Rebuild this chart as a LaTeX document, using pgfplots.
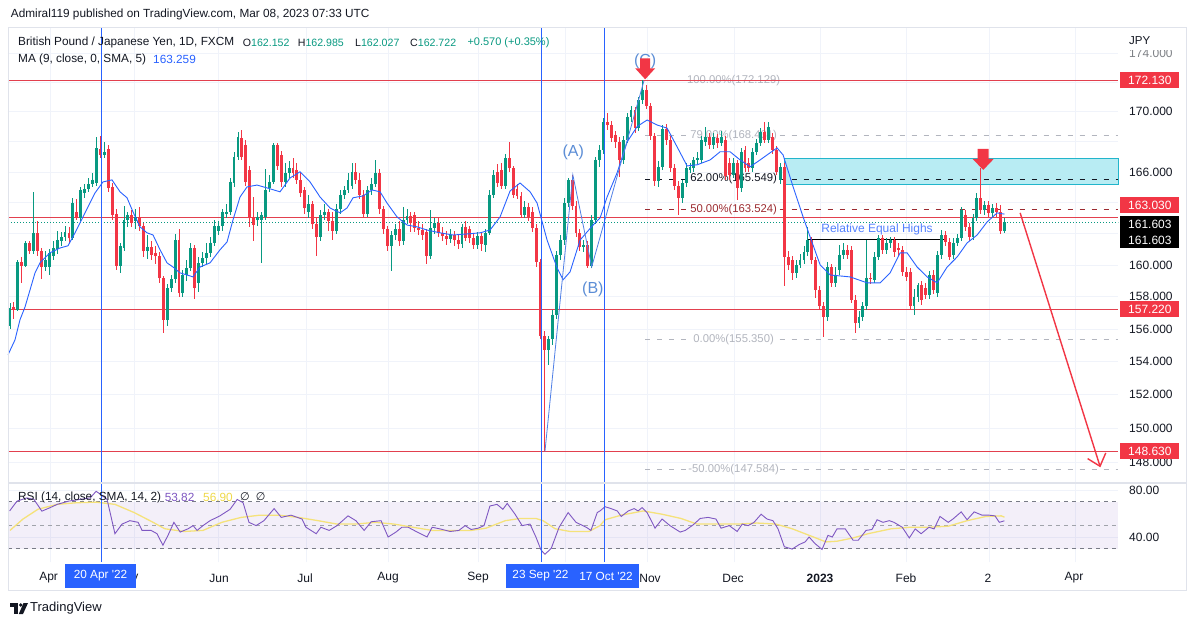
\documentclass[border=0pt]{standalone}
\usepackage{pgfplots}
\pgfplotsset{compat=1.18}
\usepackage{pgfplotstable}
\usepackage{fontspec}
\setmainfont{Liberation Sans}
\newfontfamily\dejavu{DejaVu Sans}
\usetikzlibrary{arrows.meta}
\definecolor{up}{HTML}{089981}
\definecolor{dn}{HTML}{F23645}
\definecolor{maC}{HTML}{2962FF}
\definecolor{rsiC}{HTML}{7E57C2}
\definecolor{smaC}{HTML}{F5E27A}
\definecolor{smaT}{HTML}{EFD94A}
\definecolor{gridC}{HTML}{F0F3FA}
\definecolor{frameC}{HTML}{E0E3EB}
\definecolor{txt}{HTML}{131722}
\definecolor{fibG}{HTML}{B2B5BE}
\definecolor{fibR}{HTML}{9C2B31}
\definecolor{boxF}{HTML}{B8ECF3}
\definecolor{boxB}{HTML}{22B5CB}
\definecolor{abc}{HTML}{5B8DD6}
\definecolor{hl}{HTML}{E2404E}
\definecolor{dashG}{HTML}{787B86}
\definecolor{zz}{HTML}{4F7FE6}
\newcommand\fs[1]{\fontsize{#1}{#1}\selectfont}
\newcommand\plabel[2]{\node[anchor=west, txt, font=\fs{12}, inner sep=0pt] at (axis cs:284.7,#1) {#2};}
\newcommand\rbadge[2]{\node[anchor=west, fill=dn, text=white, font=\fs{12}, inner sep=0pt, minimum width=59pt, minimum height=16pt] at (axis cs:282.44,#1) {#2};}
\newcommand\hgrid[1]{\draw[gridC, line width=0.8pt] (axis cs:-0.51,#1) -- (axis cs:281.9,#1);}
\newcommand\vgrid[3]{\draw[gridC, line width=0.8pt] (axis cs:#1,#2) -- (axis cs:#1,#3);}

\pgfplotstableread{
i o h l c
0 156.20 157.60 156.00 157.30
1 157.35 157.70 156.60 157.20
2 157.20 160.33 157.10 160.20
3 160.20 160.50 158.90 159.95
4 159.95 161.50 159.85 161.40
5 161.40 161.55 160.70 160.90
6 160.90 164.70 160.70 162.05
7 162.05 162.78 160.60 160.90
8 160.90 161.10 159.10 159.90
9 159.90 160.90 159.60 160.33
10 159.85 161.00 159.40 160.78
11 160.55 161.50 160.30 161.08
12 161.00 162.20 160.70 161.60
13 161.50 162.10 161.20 161.80
14 161.80 162.50 161.50 162.10
15 162.05 162.40 161.40 161.70
16 161.70 164.30 161.60 163.99
17 163.40 164.20 162.90 163.00
18 163.00 165.00 162.80 164.83
19 164.60 165.20 164.30 164.90
20 164.90 165.60 164.70 165.20
21 165.20 165.90 165.00 165.50
22 165.26 168.34 165.10 167.57
23 167.50 168.40 166.90 167.12
24 167.10 168.00 166.90 167.30
25 167.50 167.80 164.70 164.94
26 165.00 165.30 162.90 163.21
27 163.30 163.60 159.70 159.95
28 159.95 161.40 159.50 161.20
29 161.10 163.80 160.90 162.90
30 162.90 163.40 162.40 163.20
31 163.20 163.50 162.40 162.67
32 162.80 163.60 162.30 163.10
33 163.10 163.70 162.20 162.46
34 162.46 162.70 160.50 160.86
35 160.86 161.90 160.40 161.17
36 161.17 161.50 160.30 160.65
37 160.75 161.20 160.10 160.55
38 160.55 160.80 158.90 159.17
39 159.17 159.30 155.76 156.57
40 156.57 158.80 156.20 158.55
41 158.55 159.40 158.30 159.10
42 159.10 162.00 158.90 161.60
43 161.60 162.30 158.00 158.24
44 158.24 159.70 158.00 159.38
45 159.38 160.30 159.00 159.80
46 159.80 161.40 159.60 161.07
47 161.07 161.30 157.90 158.55
48 158.90 160.50 158.30 160.12
49 160.12 160.80 159.90 160.44
50 160.44 161.40 160.10 160.76
51 160.76 161.80 160.50 161.43
52 161.43 162.90 161.20 162.46
53 162.20 162.80 161.90 162.50
54 162.46 163.60 162.20 163.36
55 163.30 163.90 163.00 163.40
56 163.40 165.60 163.20 165.37
57 165.26 167.30 165.00 167.00
58 167.00 168.67 166.80 168.34
59 168.23 168.78 166.80 167.00
60 167.79 168.10 165.10 165.37
61 166.14 166.40 162.40 163.00
62 163.10 164.40 161.50 162.56
63 162.89 163.40 162.50 163.10
64 162.89 163.40 160.12 163.21
65 163.10 166.20 162.90 164.83
66 164.94 165.81 164.70 165.37
67 165.37 167.90 165.20 167.79
68 167.79 167.90 166.10 166.36
69 167.12 167.40 165.00 165.37
70 165.37 166.57 165.00 165.92
71 165.92 166.70 165.60 166.25
72 166.25 166.90 165.60 165.92
73 166.14 166.60 165.20 165.48
74 165.50 166.00 164.40 164.60
75 164.83 165.00 163.30 163.64
76 163.40 164.50 163.00 163.90
77 163.90 164.10 162.30 162.60
78 162.60 163.00 160.60 161.80
79 161.80 163.50 161.50 163.20
80 163.20 163.90 162.90 163.40
81 163.40 163.60 162.20 162.80
82 162.80 163.40 161.60 162.20
83 162.20 163.90 162.00 163.60
84 163.60 164.80 163.30 164.50
85 164.50 165.10 164.20 164.80
86 164.80 165.90 164.60 165.50
87 165.10 166.60 164.90 166.00
88 166.00 166.60 165.20 165.50
89 165.50 165.90 164.20 164.50
90 164.50 164.80 163.00 163.30
91 163.30 165.10 163.10 164.80
92 164.80 165.60 164.50 165.20
93 165.20 166.80 165.00 165.90
94 165.90 166.20 163.30 163.60
95 163.60 163.80 162.00 162.30
96 162.30 162.50 160.90 161.20
97 161.20 162.20 159.60 161.90
98 161.90 162.60 161.60 162.30
99 162.30 162.80 161.20 161.50
100 161.50 163.70 161.30 162.90
101 162.90 163.60 162.60 163.15
102 163.15 163.40 162.10 162.69
103 163.20 163.40 162.10 162.37
104 162.37 162.80 161.90 162.24
105 162.24 162.60 161.60 161.92
106 162.10 162.30 160.10 160.59
107 160.59 163.50 160.40 162.37
108 162.37 163.00 162.00 162.69
109 162.69 163.00 161.80 162.05
110 162.05 162.40 161.50 161.86
111 161.86 162.20 161.30 161.67
112 161.67 162.30 161.40 161.92
113 161.92 162.20 161.20 161.60
114 161.60 161.90 161.00 161.35
115 161.35 162.60 161.10 162.43
116 162.43 162.80 161.50 161.73
117 162.30 162.50 161.40 161.73
118 161.73 162.00 161.00 161.28
119 161.28 162.10 161.00 161.86
120 161.86 162.10 160.90 161.35
121 161.28 162.30 160.80 162.05
122 162.05 164.83 161.90 164.50
123 164.50 166.14 164.30 165.81
124 166.00 166.50 165.00 165.28
125 166.14 166.57 164.90 165.09
126 165.09 167.20 164.90 166.92
127 166.92 168.00 166.00 166.27
128 166.27 166.40 164.30 164.50
129 164.90 165.20 164.20 164.43
130 164.43 164.70 163.00 163.21
131 163.21 164.10 163.00 163.73
132 163.73 164.00 162.80 163.08
133 163.40 163.70 162.10 162.37
134 162.37 162.60 159.90 160.20
135 160.20 160.40 155.40 155.60
136 155.60 155.90 148.63 154.73
137 154.73 155.60 153.80 155.40
138 155.40 157.20 155.00 156.90
139 156.90 160.90 156.60 160.65
140 160.65 161.90 160.30 161.60
141 161.60 164.30 161.30 163.98
142 163.98 165.60 163.70 165.48
143 165.48 165.81 163.50 163.80
144 163.80 164.10 161.80 162.05
145 162.05 162.30 160.90 161.15
146 161.15 161.60 160.80 161.25
147 161.25 161.50 159.80 159.95
148 159.95 163.20 159.80 162.89
149 162.89 167.00 162.60 166.79
150 166.79 167.80 166.30 167.46
151 167.46 169.60 167.20 169.31
152 169.31 169.90 168.80 169.12
153 169.12 169.40 168.00 168.25
154 168.45 168.70 167.60 167.99
155 167.99 168.30 165.70 166.79
156 166.79 168.40 166.50 168.12
157 168.12 169.90 167.90 169.65
158 169.65 170.40 169.30 170.12
159 170.12 170.30 168.60 168.90
160 168.90 171.00 168.70 170.80
161 170.80 172.13 170.50 171.47
162 171.47 171.80 170.20 170.40
163 170.40 170.60 168.10 168.39
164 168.39 168.60 165.10 165.42
165 165.42 166.70 165.00 166.34
166 166.34 169.10 166.10 168.85
167 168.85 169.20 167.80 168.12
168 168.12 168.40 166.00 166.27
169 166.27 166.50 164.80 165.09
170 165.09 165.40 163.21 164.31
171 164.31 165.50 164.00 165.28
172 165.28 166.60 165.00 166.27
173 166.14 166.60 165.90 166.34
174 166.27 167.00 166.00 166.79
175 166.79 167.30 166.50 166.92
176 166.79 168.40 166.60 168.12
177 167.99 169.00 167.70 168.32
178 168.32 168.60 167.50 167.79
179 167.79 168.60 167.50 168.32
180 168.25 168.50 167.60 167.92
181 167.92 168.70 167.70 168.32
182 168.12 168.40 165.50 165.74
183 166.60 166.90 165.50 165.81
184 165.81 166.90 165.60 166.60
185 166.60 166.80 164.18 164.94
186 164.94 167.60 164.70 167.33
187 167.46 167.70 166.00 166.27
188 166.60 166.90 166.00 166.27
189 166.27 167.60 166.00 167.33
190 167.33 168.20 167.10 167.92
191 167.92 168.90 167.70 168.65
192 168.65 169.30 167.90 168.12
193 168.12 169.30 167.90 168.98
194 168.32 168.60 167.20 167.46
195 167.46 167.70 165.80 166.00
196 165.48 166.60 165.20 166.34
197 166.34 166.60 158.69 160.52
198 160.52 160.90 159.70 160.01
199 160.33 160.60 159.07 159.51
200 159.51 160.30 159.20 160.01
201 160.01 160.70 159.80 160.33
202 160.33 161.20 160.10 160.84
203 160.84 162.40 160.60 161.60
204 161.60 161.80 160.10 160.33
205 160.33 160.50 157.94 158.44
206 158.44 158.70 157.20 157.44
207 157.44 157.70 155.52 156.76
208 156.76 160.20 156.50 159.88
209 159.88 160.10 158.60 158.88
210 158.88 159.90 158.60 159.38
211 159.70 161.28 159.40 160.65
212 160.65 161.40 160.40 160.97
213 160.97 161.30 160.40 160.65
214 160.97 161.20 157.60 157.82
215 157.82 158.10 155.77 156.38
216 156.38 157.10 156.10 156.76
217 156.76 157.70 156.50 157.44
218 157.44 161.60 157.20 159.20
219 159.20 159.50 158.80 159.10
220 159.07 160.80 158.90 160.52
221 160.52 161.90 160.30 161.73
222 161.73 161.90 160.70 160.97
223 160.97 161.70 160.70 161.41
224 161.41 161.80 161.10 161.60
225 161.60 161.80 160.50 160.84
226 161.09 161.40 160.60 160.97
227 160.97 161.20 159.30 159.57
228 159.57 159.90 159.00 159.26
229 159.57 159.80 157.20 157.44
230 157.44 158.50 156.88 158.00
231 158.00 158.90 157.70 158.75
232 158.75 159.00 157.50 157.82
233 158.57 158.90 157.90 158.13
234 158.13 159.60 157.90 159.38
235 159.38 159.70 158.20 158.44
236 158.25 160.90 158.00 160.65
237 160.65 162.24 160.40 161.92
238 161.92 162.20 161.20 161.47
239 161.47 161.70 160.30 160.52
240 160.65 161.70 160.40 161.41
241 161.41 162.00 161.20 161.73
242 161.73 163.70 161.50 163.53
243 163.21 163.50 162.20 162.43
244 162.43 162.70 161.50 161.79
245 161.79 163.30 161.60 163.02
246 163.02 164.60 162.80 164.31
247 164.31 166.27 163.30 163.53
248 163.53 164.10 163.20 163.85
249 163.85 164.10 163.10 163.34
250 163.34 163.90 163.10 163.66
251 163.66 164.00 163.10 163.40
252 163.40 163.85 162.00 162.15
253 162.15 162.99 162.03 162.72
}\ohlc

\pgfplotstableread{
i v
-0.5 154.43
1.27 155.34
2.54 156.57
3.82 157.38
5.09 158.44
6.36 159.51
7.63 160.14
10.18 160.78
12.72 161.09
14.76 161.22
16.54 162.05
19.08 163.34
21.63 164.63
23.66 165.35
25.95 165.48
27.99 164.70
29.77 164.31
31.30 163.40
33.08 162.43
34.86 162.05
36.39 161.92
38.17 160.97
39.95 160.14
41.48 159.88
43.26 159.51
45.04 159.38
46.56 159.26
48.35 159.88
50.89 160.14
53.44 160.97
55.22 161.47
56.74 162.89
58.52 164.37
60.31 165.02
62.85 165.15
65.39 164.96
68.70 164.70
71.25 165.61
73.79 166.01
76.34 165.35
78.88 164.37
81.42 163.66
83.97 163.34
85.75 163.66
87.28 164.31
89.82 164.44
92.11 164.83
94.15 164.70
95.93 163.98
98.47 163.08
101.02 162.56
103.56 162.43
106.11 162.24
109.41 162.05
112.72 161.92
116.28 161.99
119.59 162.05
122.14 162.24
124.68 163.08
127.23 164.76
129.77 165.28
132.32 164.70
134.10 163.98
136.64 161.60
139.19 159.82
140.71 159.07
142.49 159.57
145.04 161.60
148.35 162.56
150.13 163.02
151.91 164.37
154.45 165.94
157.00 167.99
159.54 169.00
162.09 169.45
164.63 169.12
167.18 168.91
169.72 167.66
172.26 166.40
174.81 166.47
178.12 166.79
180.66 167.33
183.21 167.33
185.75 166.79
188.30 166.34
190.84 166.79
193.38 167.26
195.17 167.59
196.69 167.12
199.24 165.02
201.78 163.08
203.56 161.79
206.11 160.01
208.65 159.38
213.74 159.26
218.07 158.88
221.37 158.88
223.92 159.51
226.46 160.78
228.24 160.78
230.79 159.88
233.33 159.26
235.88 158.88
238.42 159.88
240.97 160.52
243.51 161.41
246.06 161.92
248.60 162.76
251.15 163.34
253.00 163.26
}\ma

\pgfplotstableread{
i v
-0.1 62.2
1.8 70.6
4.3 73.3
6.1 72.0
8.1 62.0
10.2 65.0
12.0 67.8
15.0 70.6
17.8 72.0
20.4 73.3
21.9 78.9
23.2 76.0
24.7 72.0
26.7 42.8
28.5 51.0
30.5 53.9
32.6 52.5
33.6 45.6
35.9 45.6
37.4 42.8
38.9 33.0
40.2 41.4
41.7 52.5
43.3 44.2
45.3 47.0
46.6 49.7
47.6 45.6
49.1 49.7
50.9 53.9
53.4 58.0
56.0 63.6
57.8 72.0
59.3 69.2
60.8 52.5
62.6 49.7
64.6 53.9
67.2 64.2
69.0 56.7
71.5 58.6
74.3 55.3
75.3 48.3
77.9 42.8
79.1 48.3
81.2 45.6
83.2 49.7
86.0 58.0
88.0 53.9
90.1 45.6
91.9 53.0
94.4 53.9
96.2 40.0
98.2 44.2
99.7 48.3
101.3 48.3
103.6 44.2
106.1 40.0
107.4 48.3
109.4 46.9
112.0 44.7
114.2 45.6
115.8 49.7
117.3 46.4
119.1 47.5
120.6 49.7
122.1 66.4
123.9 67.8
125.4 63.6
126.5 68.6
128.5 59.4
130.3 49.7
132.3 51.0
133.8 40.0
135.1 28.9
136.1 25.3
137.7 30.3
139.7 48.3
142.0 60.8
144.0 52.5
146.6 48.3
147.8 45.6
149.4 60.8
150.1 62.2
151.4 65.8
152.9 64.2
154.5 62.2
155.5 57.5
157.3 62.2
158.8 64.2
159.8 62.2
160.8 65.0
162.1 60.8
164.1 47.5
165.9 55.3
167.9 49.7
170.5 44.2
171.8 45.6
173.8 50.3
175.6 55.8
177.6 56.7
179.6 55.3
180.9 47.5
183.0 49.7
185.0 44.7
186.3 51.0
187.8 49.7
189.3 52.5
191.1 59.4
192.6 55.3
194.1 53.9
195.4 46.9
197.0 31.7
199.0 29.7
200.8 33.6
202.3 35.8
203.3 40.0
204.8 34.4
206.6 29.4
208.1 41.4
209.2 40.0
210.4 46.9
212.5 46.9
214.5 37.2
215.8 37.2
217.8 45.6
219.3 46.4
220.6 54.7
222.1 52.5
223.7 53.9
224.9 52.5
227.0 48.3
228.8 39.2
230.3 46.9
231.8 42.8
233.8 48.3
235.1 46.9
236.6 57.5
238.7 52.5
239.9 55.3
242.0 61.4
243.5 54.7
245.3 61.4
247.3 58.6
249.1 58.6
250.6 58.0
251.7 52.5
253.0 53.8
}\rsi

\pgfplotstableread{
i v
0 45.6
3.3 55.3
7.1 63.6
12.0 67.8
17.0 69.2
21.9 69.7
26.7 67.8
31.6 60.8
36.4 52.5
39.4 47.0
44.3 44.7
49.1 45.6
53.9 52.5
58.8 56.7
63.6 58.6
68.4 58.6
73.3 56.7
78.4 53.9
83.2 51.0
88.0 51.0
92.9 52.5
97.7 51.0
102.5 48.3
107.4 45.6
112.5 45.6
117.3 45.6
121.1 47.5
126.0 53.9
129.8 55.8
133.8 55.8
135.6 53.9
138.7 47.0
142.5 44.7
147.3 44.7
150.1 49.7
151.4 54.7
155.5 58.6
161.1 62.2
165.9 59.4
170.7 55.8
174.8 51.0
179.6 51.0
185.2 51.0
190.1 51.9
194.9 51.0
199.0 47.0
203.8 40.8
207.6 35.8
210.4 36.4
214.5 39.2
218.3 42.8
224.2 47.0
229.0 48.3
233.8 48.3
238.7 49.2
243.5 53.9
248.3 57.5
252.2 58.0
253.0 56.9
}\rsisma

\begin{document}
\begin{tikzpicture}
\useasboundingbox (0pt,0pt) rectangle (1194pt,627pt);
\fill[white] (0pt,0pt) rectangle (1194pt,627pt);

% ================= price pane =================
\begin{axis}[
  at={(8pt,144pt)}, anchor=south west, scale only axis,
  width=1110pt, height=455pt,
  xmin=-0.51, xmax=281.9,
  ymode=log, ymin=146.80, ymax=175.73,
  axis line style={draw=none},
  xtick=\empty, ytick=\empty,
  clip=false,
]
% grid
\hgrid{148}\hgrid{150}\hgrid{152}\hgrid{154}\hgrid{156}\hgrid{158}\hgrid{160}
\hgrid{162}\hgrid{164}\hgrid{166}\hgrid{168}\hgrid{170}\hgrid{172}\hgrid{174}
\vgrid{10.18}{146.8}{175.73}\vgrid{31.55}{146.8}{175.73}\vgrid{52.93}{146.8}{175.73}
\vgrid{75.32}{146.8}{175.73}\vgrid{96.18}{146.8}{175.73}\vgrid{119.08}{146.8}{175.73}
\vgrid{141.22}{146.8}{175.73}\vgrid{162.09}{146.8}{175.73}\vgrid{184.22}{146.8}{175.73}
\vgrid{206.11}{146.8}{175.73}\vgrid{227.99}{146.8}{175.73}\vgrid{249.11}{146.8}{175.73}
\vgrid{270.99}{146.8}{175.73}

% supply / resistance box
\fill[boxF] (axis cs:196.95,165.22) rectangle (axis cs:281.9,166.92);
\draw[boxB, line width=0.8pt] (axis cs:196.95,165.22) rectangle (axis cs:281.9,166.92);

% fibonacci levels
\draw[fibG, line width=0.8pt, dash pattern=on 5pt off 7pt] (axis cs:161.58,172.129) -- (axis cs:172.3,172.129) (axis cs:195.8,172.129) -- (axis cs:281.9,172.129);
\draw[fibG, line width=0.8pt, dash pattern=on 5pt off 7pt] (axis cs:161.58,168.431) -- (axis cs:172.3,168.431) (axis cs:195.8,168.431) -- (axis cs:281.9,168.431);
\draw[txt, line width=0.8pt, dash pattern=on 5pt off 7pt] (axis cs:161.58,165.549) -- (axis cs:172.3,165.549) (axis cs:195.8,165.549) -- (axis cs:281.9,165.549);
\draw[fibR, line width=0.8pt, dash pattern=on 5pt off 7pt] (axis cs:161.58,163.524) -- (axis cs:172.3,163.524) (axis cs:195.8,163.524) -- (axis cs:281.9,163.524);
\draw[fibG, line width=0.8pt, dash pattern=on 5pt off 7pt] (axis cs:161.58,155.350) -- (axis cs:172.3,155.350) (axis cs:195.8,155.350) -- (axis cs:281.9,155.350);
\draw[fibG, line width=0.8pt, dash pattern=on 5pt off 7pt] (axis cs:161.58,147.584) -- (axis cs:172.3,147.584) (axis cs:195.8,147.584) -- (axis cs:281.9,147.584);
\node[fibG, font=\fs{11.3}] at (axis cs:184.1,172.129) {100.00\%(172.129)};
\node[fibG, font=\fs{11.3}] at (axis cs:184.1,168.431) {79.00\%(168.431)};
\node[txt, font=\fs{11.3}] at (axis cs:184.1,165.549) {62.00\%(165.549)};
\node[fibR, font=\fs{11.3}] at (axis cs:184.1,163.524) {50.00\%(163.524)};
\node[fibG, font=\fs{11.3}] at (axis cs:184.1,155.350) {0.00\%(155.350)};
\node[fibG, font=\fs{11.3}] at (axis cs:184.1,147.584) {-50.00\%(147.584)};

% horizontal levels
\draw[hl, line width=0.9pt] (axis cs:-0.51,172.13) -- (axis cs:281.9,172.13);
\draw[hl, line width=0.9pt] (axis cs:-0.51,163.03) -- (axis cs:281.9,163.03);
\draw[hl, line width=0.9pt] (axis cs:-0.51,157.22) -- (axis cs:281.9,157.22);
\draw[hl, line width=0.9pt] (axis cs:-0.51,148.63) -- (axis cs:281.9,148.63);
\draw[up, line width=0.8pt, dash pattern=on 1pt off 2pt] (axis cs:-0.51,162.722) -- (axis cs:281.9,162.722);

% relative equal highs
\draw[black, line width=1pt] (axis cs:203.05,161.64) -- (axis cs:238.4,161.64);

% candles: wicks and bodies
\addplot[draw=none, mark=none, forget plot,
  restrict expr to domain={\thisrow{c}-\thisrow{o}}{0:100},
  error bars/.cd, y dir=both, y explicit, error mark=none,
  error bar style={draw=up, solid, line width=0.9pt}]
  table[x=i, y=c, y error plus expr={\thisrow{h}-\thisrow{c}}, y error minus expr={\thisrow{c}-\thisrow{l}}] {\ohlc};
\addplot[draw=none, mark=none, forget plot,
  restrict expr to domain={\thisrow{c}-\thisrow{o}}{0:100},
  error bars/.cd, y dir=both, y explicit, error mark=none,
  error bar style={draw=up, solid, line width=2.9pt}]
  table[x=i, y=c, y error plus expr={0}, y error minus expr={\thisrow{c}-\thisrow{o}}] {\ohlc};
\addplot[draw=none, mark=none, forget plot,
  restrict expr to domain={\thisrow{o}-\thisrow{c}}{0.0001:100},
  error bars/.cd, y dir=both, y explicit, error mark=none,
  error bar style={draw=dn, solid, line width=0.9pt}]
  table[x=i, y=c, y error plus expr={\thisrow{h}-\thisrow{c}}, y error minus expr={\thisrow{c}-\thisrow{l}}] {\ohlc};
\addplot[draw=none, mark=none, forget plot,
  restrict expr to domain={\thisrow{o}-\thisrow{c}}{0.0001:100},
  error bars/.cd, y dir=both, y explicit, error mark=none,
  error bar style={draw=dn, solid, line width=2.9pt}]
  table[x=i, y=c, y error plus expr={\thisrow{o}-\thisrow{c}}, y error minus expr={0}] {\ohlc};

% moving average
\addplot[maC, line width=0.9pt, mark=none, forget plot] table[x=i, y=v] {\ma};
% ABC zigzag
\addplot[zz, line width=0.8pt, mark=none, forget plot] coordinates {(136.1,148.63) (143.2,165.81) (148.0,159.9) (161.3,172.1)};

% vertical date lines
\draw[maC, line width=0.9pt] (axis cs:23.16,146.8) -- (axis cs:23.16,175.73);
\draw[maC, line width=0.9pt] (axis cs:135.1,146.8) -- (axis cs:135.1,175.73);
\draw[maC, line width=0.9pt] (axis cs:151.15,146.8) -- (axis cs:151.15,175.73);

% labels
\node[abc, font=\fs{16}] at (axis cs:143.3,167.26) {(A)};
\node[abc, font=\fs{16}] at (axis cs:148.3,158.5) {(B)};
\node[abc, font=\fs{16}] at (axis cs:161.6,173.45) {(C)};
\node[maC!80!white, font=\fs{12}] at (axis cs:220.6,162.30) {Relative Equal Highs};

% down arrows
\fill[dn] (axis cs:161.6,172.2) -- ++(10pt,11pt) -- ++(-5pt,0pt) -- ++(0pt,10pt) -- ++(-10pt,0pt) -- ++(0pt,-10pt) -- ++(-5pt,0pt) -- cycle;
\fill[dn] (axis cs:247.6,166.14) -- ++(10.5pt,11pt) -- ++(-5pt,0pt) -- ++(0pt,10pt) -- ++(-11pt,0pt) -- ++(0pt,-10pt) -- ++(-5pt,0pt) -- cycle;
% projection arrow
\draw[dn, line width=1.4pt, -{Straight Barb[length=11pt, width=19pt]}] (axis cs:257,163.34) -- (axis cs:277.4,147.7);

% price scale labels
\plabel{148}{148.000}
\plabel{150}{150.000}
\plabel{152}{152.000}
\plabel{154}{154.000}
\plabel{156}{156.000}
\plabel{158}{158.000}
\plabel{160}{160.000}
\plabel{166}{166.000}
\plabel{170}{170.000}
\node[anchor=west, txt!55!white, font=\fs{12}, inner sep=0pt] at (axis cs:284.7,174) {174.000};
% badges
\rbadge{172.13}{172.130}
\rbadge{163.82}{163.030}
\rbadge{157.22}{157.220}
\rbadge{148.63}{148.630}
\node[anchor=west, fill=black, text=white, font=\fs{12}, inner sep=0pt, minimum width=59pt, minimum height=16.6pt] at (axis cs:282.44,162.61) {161.603};
\node[anchor=west, fill=black, text=white, font=\fs{12}, inner sep=0pt, minimum width=59pt, minimum height=16.6pt] at (axis cs:282.44,161.60) {161.603};
\end{axis}

% ================= RSI pane =================
\begin{axis}[
  at={(8pt,65pt)}, anchor=south west, scale only axis,
  width=1110pt, height=79pt,
  xmin=-0.51, xmax=281.9, ymin=18.7, ymax=86,
  axis line style={draw=none},
  xtick=\empty, ytick=\empty,
  clip=false,
]
\hgrid{40}\hgrid{80}
\vgrid{10.18}{18.7}{86}\vgrid{31.55}{18.7}{86}\vgrid{52.93}{18.7}{86}
\vgrid{75.32}{18.7}{86}\vgrid{96.18}{18.7}{86}\vgrid{119.08}{18.7}{86}
\vgrid{141.22}{18.7}{86}\vgrid{162.09}{18.7}{86}\vgrid{184.22}{18.7}{86}
\vgrid{206.11}{18.7}{86}\vgrid{227.99}{18.7}{86}\vgrid{249.11}{18.7}{86}
\vgrid{270.99}{18.7}{86}
\fill[rsiC, fill opacity=0.09] (axis cs:-0.51,30) rectangle (axis cs:281.9,70);
\draw[dashG, line width=0.8pt, dash pattern=on 4pt off 4pt] (axis cs:-0.51,70) -- (axis cs:281.9,70);
\draw[dashG!70!white, line width=0.8pt, dash pattern=on 4pt off 4pt] (axis cs:-0.51,50) -- (axis cs:281.9,50);
\draw[dashG, line width=0.8pt, dash pattern=on 4pt off 4pt] (axis cs:-0.51,30) -- (axis cs:281.9,30);
\addplot[smaC, line width=1.3pt, mark=none, forget plot] table[x=i, y=v] {\rsisma};
\addplot[rsiC, line width=0.9pt, mark=none, forget plot] table[x=i, y=v] {\rsi};
\draw[maC, line width=0.9pt] (axis cs:23.16,18.7) -- (axis cs:23.16,86);
\draw[maC, line width=0.9pt] (axis cs:135.1,18.7) -- (axis cs:135.1,86);
\draw[maC, line width=0.9pt] (axis cs:151.15,18.7) -- (axis cs:151.15,86);
\node[anchor=west, txt, font=\fs{12}, inner sep=0pt] at (axis cs:284.7,80) {80.00};
\node[anchor=west, txt, font=\fs{12}, inner sep=0pt] at (axis cs:284.7,40) {40.00};
\end{axis}

% frame and separators
\draw[frameC, line width=1pt] (8pt,37pt) rectangle (1186pt,599pt);
\draw[frameC, line width=1.6pt] (8pt,144pt) -- (1186pt,144pt);

% scale header
\fill[white] (1120pt,576.5pt) rectangle (1185pt,598.5pt);
\node[anchor=west, txt, font=\fs{11.5}, inner sep=0pt] at (1129pt,586pt) {JPY};

% time axis labels
\node[txt, font=\fs{12}] at (48.6pt,49pt) {Apr};
\begin{scope}
\clip (136pt,40pt) rectangle (160pt,60pt);
\node[txt, font=\fs{12}] at (127pt,49pt) {May};
\end{scope}
\node[txt, font=\fs{12}] at (219pt,49pt) {Jun};
\node[txt, font=\fs{12}] at (305pt,49pt) {Jul};
\node[txt, font=\fs{12}] at (388pt,49pt) {Aug};
\node[txt, font=\fs{12}] at (478pt,49pt) {Sep};
\node[txt, font=\fs{12}] at (650pt,49pt) {Nov};
\node[txt, font=\fs{12}] at (733pt,49pt) {Dec};
\node[txt, font=\fs{12}\bfseries] at (820pt,49pt) {2023};
\node[txt, font=\fs{12}] at (906pt,49pt) {Feb};
\node[txt, font=\fs{12}] at (988pt,49pt) {2};
\node[txt, font=\fs{12}] at (1074pt,49pt) {Apr};
\fill[maC] (65pt,39pt) rectangle (136pt,63pt);
\node[white, font=\fs{11.8}] at (100.5pt,51pt) {20 Apr \textquotesingle22};
\fill[maC] (506pt,39pt) rectangle (639pt,63pt);
\node[white, font=\fs{11.8}] at (540.5pt,51pt) {23 Sep \textquotesingle22};
\node[white, font=\fs{11.8}] at (606pt,51pt) {17 Oct \textquotesingle22};

% header texts
\node[anchor=west, txt, font=\fs{11.8}, inner sep=0pt] at (10.7pt,613pt) {Admiral119 published on TradingView.com, Mar 08, 2023 07:33 UTC};
\node[anchor=west, txt, font=\fs{11.8}, inner sep=0pt] at (18pt,584.5pt) {British Pound / Japanese Yen, 1D, FXCM};
\node[anchor=west, txt, font=\fs{10.6}, inner sep=0pt] at (242.7pt,584.5pt) {O\textcolor{up}{162.152}};
\node[anchor=west, txt, font=\fs{10.6}, inner sep=0pt] at (297.7pt,584.5pt) {H\textcolor{up}{162.985}};
\node[anchor=west, txt, font=\fs{10.6}, inner sep=0pt] at (355pt,584.5pt) {L\textcolor{up}{162.027}};
\node[anchor=west, txt, font=\fs{10.6}, inner sep=0pt] at (410pt,584.5pt) {C\textcolor{up}{162.722}};
\node[anchor=west, up, font=\fs{11}, inner sep=0pt] at (467.3pt,584.5pt) {+0.570 (+0.35\%)};
\node[anchor=west, txt, font=\fs{11.8}, inner sep=0pt] at (18pt,568pt) {MA (9, close, 0, SMA, 5)};
\node[anchor=west, maC, font=\fs{11.8}, inner sep=0pt] at (153pt,568pt) {163.259};
\node[anchor=west, txt, font=\fs{11.8}, inner sep=0pt] at (18pt,130pt) {RSI (14, close, SMA, 14, 2)};
\node[anchor=west, rsiC, font=\fs{11.8}, inner sep=0pt] at (164.6pt,130pt) {53.82};
\node[anchor=west, smaT, font=\fs{11.8}, inner sep=0pt] at (203pt,130pt) {56.90};
\node[anchor=west, txt, font=\fs{11}\dejavu, inner sep=0pt] at (240pt,130pt) {∅\hspace{6pt}∅};

% footer logo
\fill[txt] (10pt,24pt) rectangle (18pt,20.5pt);
\fill[txt] (14pt,24pt) rectangle (18pt,13pt);
\fill[txt] (20.8pt,22pt) circle (1.9pt);
\fill[txt] (23.5pt,24pt) -- (28pt,24pt) -- (23pt,13pt) -- (18.8pt,13pt) -- cycle;
\node[anchor=west, txt, font=\fs{13}, inner sep=0pt] at (30pt,19pt) {TradingView};
\end{tikzpicture}
\end{document}
